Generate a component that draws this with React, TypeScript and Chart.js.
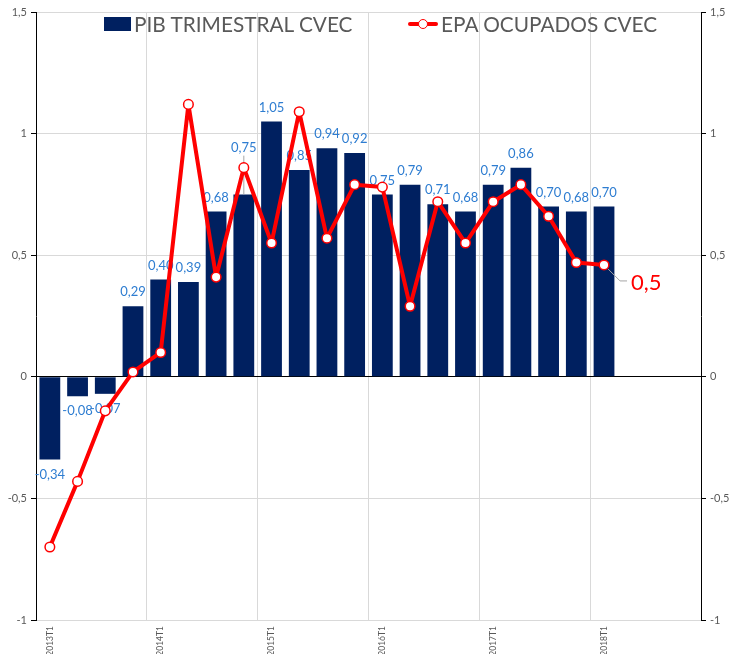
import React, { useEffect, useRef } from 'react';
import { Chart, registerables } from 'chart.js';

Chart.register(...registerables);

const categories = [
  '2013T1', '2013T2', '2013T3', '2013T4',
  '2014T1', '2014T2', '2014T3', '2014T4',
  '2015T1', '2015T2', '2015T3', '2015T4',
  '2016T1', '2016T2', '2016T3', '2016T4',
  '2017T1', '2017T2', '2017T3', '2017T4',
  '2018T1', '2018T2', '2018T3', '2018T4',
];

const pibValues: (number | null)[] = [
  -0.34, -0.08, -0.07, 0.29,
  0.40, 0.39, 0.68, 0.75,
  1.05, 0.85, 0.94, 0.92,
  0.75, 0.79, 0.71, 0.68,
  0.79, 0.86, 0.70, 0.68,
  0.70, null, null, null,
];

const epaValues: (number | null)[] = [
  -0.70, -0.43, -0.14, 0.02,
  0.10, 1.12, 0.41, 0.86,
  0.55, 1.09, 0.57, 0.79,
  0.78, 0.29, 0.72, 0.55,
  0.72, 0.79, 0.66, 0.47,
  0.46, null, null, null,
];

const yMin = -1;
const yMax = 1.5;
const yStep = 0.5;

const pibLabel = 'PIB TRIMESTRAL CVEC';
const epaLabel = 'EPA OCUPADOS CVEC';

const FONT = "Lato, 'Liberation Sans', sans-serif";
const NAVY = '#002060';
const RED = '#ff0000';
const LABEL_BLUE = '#2e7dd1';
const GREY_TEXT = '#595959';
const GRID = '#d9d9d9';

const fmt = (v: number, d: number) => v.toFixed(d).replace('.', ',');
const fmtTick = (v: number) => String(v).replace('.', ',');

const labelPlugin = {
  id: 'barLabels',
  afterDatasetDraw(chart: any, args: any) {
    if (args.index !== 0) return;
    const ctx = chart.ctx;
    const meta = chart.getDatasetMeta(0);
    const lineMeta = chart.getDatasetMeta(1);
    ctx.save();
    ctx.font = `13px ${FONT}`;
    ctx.fillStyle = LABEL_BLUE;
    ctx.textAlign = 'center';
    ctx.textBaseline = 'middle';
    meta.data.forEach((bar: any, i: number) => {
      const v = pibValues[i];
      if (v == null) return;
      const { x, y } = bar.getProps(['x', 'y'], true);
      let ly: number;
      if (v >= 0) {
        ly = y - 14;
        const p = lineMeta.data[i];
        if (p && epaValues[i] != null && p.y < y - 10 && p.y > y - 45) {
          ly = p.y - 20;
          ctx.save();
          ctx.strokeStyle = '#a6a6a6';
          ctx.lineWidth = 1;
          ctx.beginPath();
          ctx.moveTo(x, ly + 8);
          ctx.lineTo(x, y);
          ctx.stroke();
          ctx.restore();
        }
      } else {
        ly = y + 15;
      }
      ctx.fillText(fmt(v, 2), x, ly);
    });
    ctx.restore();
  },
  afterDatasetsDraw(chart: any) {
    const lineMeta = chart.getDatasetMeta(1);
    let idx = -1;
    epaValues.forEach((v, i) => { if (v != null) idx = i; });
    if (idx < 0) return;
    const p = lineMeta.data[idx];
    const v = epaValues[idx] as number;
    const ctx = chart.ctx;
    ctx.save();
    ctx.strokeStyle = '#a6a6a6';
    ctx.lineWidth = 1;
    ctx.beginPath();
    ctx.moveTo(p.x + 4, p.y + 4);
    ctx.lineTo(p.x + 16, p.y + 16);
    ctx.lineTo(p.x + 23, p.y + 16);
    ctx.stroke();
    ctx.font = `22px ${FONT}`;
    ctx.fillStyle = RED;
    ctx.textAlign = 'left';
    ctx.textBaseline = 'middle';
    ctx.fillText(fmt(v, 1), p.x + 27, p.y + 18);
    ctx.restore();
  },
};

export default function App() {
  const ref = useRef<HTMLCanvasElement>(null);

  useEffect(() => {
    const tickFont = { family: FONT, size: 11 };
    const chart = new Chart(ref.current as HTMLCanvasElement, {
      type: 'bar',
      data: {
        labels: categories,
        datasets: [
          {
            type: 'bar',
            label: pibLabel,
            data: pibValues,
            backgroundColor: NAVY,
            barPercentage: 0.75,
            categoryPercentage: 1,
            order: 1,
            yAxisID: 'y',
          } as any,
          {
            type: 'line',
            label: epaLabel,
            data: epaValues,
            borderColor: RED,
            borderWidth: 4,
            borderJoinStyle: 'round',
            borderCapStyle: 'round',
            pointRadius: 4.8,
            pointBackgroundColor: '#ffffff',
            pointBorderColor: RED,
            pointBorderWidth: 1.5,
            tension: 0,
            order: 0,
            yAxisID: 'y',
          } as any,
        ],
      },
      options: {
        responsive: false,
        animation: false,
        devicePixelRatio: 1,
        layout: { padding: { top: 12, left: 0, right: 0, bottom: 0 } },
        plugins: {
          legend: { display: false },
          tooltip: { enabled: false },
        },
        scales: {
          x: {
            offset: true,
            grid: {
              offset: true,
              drawTicks: false,
              color: (c: any) => (c.index > 0 && c.index % 4 === 0 ? GRID : 'rgba(0,0,0,0)'),
            },
            border: { color: GRID },
            ticks: {
              autoSkip: false,
              minRotation: 90,
              maxRotation: 90,
              padding: 6,
              color: GREY_TEXT,
              font: { family: FONT, size: 8.5 },
              callback: (_v: any, i: number) => (categories[i].endsWith('T1') ? categories[i] : ''),
            },
            afterFit: (s: any) => { s.height = 34; },
          },
          y: {
            position: 'left',
            min: yMin,
            max: yMax,
            ticks: {
              stepSize: yStep,
              color: GREY_TEXT,
              font: tickFont,
              padding: 4,
              callback: (v: any) => fmtTick(Number(v)),
            },
            grid: {
              color: (c: any) => (c.tick && c.tick.value === 0 ? '#000000' : GRID),
              tickColor: '#000000',
              tickLength: 5,
            },
            border: { color: '#000000' },
            afterFit: (s: any) => { s.width = 36; },
          },
          y2: {
            position: 'right',
            min: yMin,
            max: yMax,
            ticks: {
              stepSize: yStep,
              color: GREY_TEXT,
              font: tickFont,
              padding: 4,
              callback: (v: any) => fmtTick(Number(v)),
            },
            grid: {
              drawOnChartArea: false,
              tickColor: '#000000',
              tickLength: 5,
            },
            border: { color: '#000000' },
            afterFit: (s: any) => { s.width = 31; },
          },
        },
      } as any,
      plugins: [labelPlugin],
    });
    return () => chart.destroy();
  }, []);

  const legendText: React.CSSProperties = {
    position: 'absolute',
    fontFamily: FONT,
    fontSize: 20.8,
    lineHeight: '20px',
    color: GREY_TEXT,
    whiteSpace: 'nowrap',
  };

  return (
    <div style={{ position: 'absolute', left: 0, top: 0, width: 732, height: 654, background: '#ffffff' }}>
      <canvas ref={ref} width={732} height={654} style={{ display: 'block' }} />
      <div style={{ position: 'absolute', left: 104, top: 17, width: 27, height: 14, background: NAVY }} />
      <div style={{ ...legendText, left: 134, top: 14 }}>{pibLabel}</div>
      <div style={{ position: 'absolute', left: 408, top: 22, width: 30, height: 4, background: RED, borderRadius: 2 }} />
      <div
        style={{
          position: 'absolute', left: 418, top: 19, width: 10, height: 10, boxSizing: 'border-box',
          border: `1.5px solid ${RED}`, borderRadius: '50%', background: '#ffffff',
        }}
      />
      <div style={{ ...legendText, left: 441, top: 14 }}>{epaLabel}</div>
    </div>
  );
}
